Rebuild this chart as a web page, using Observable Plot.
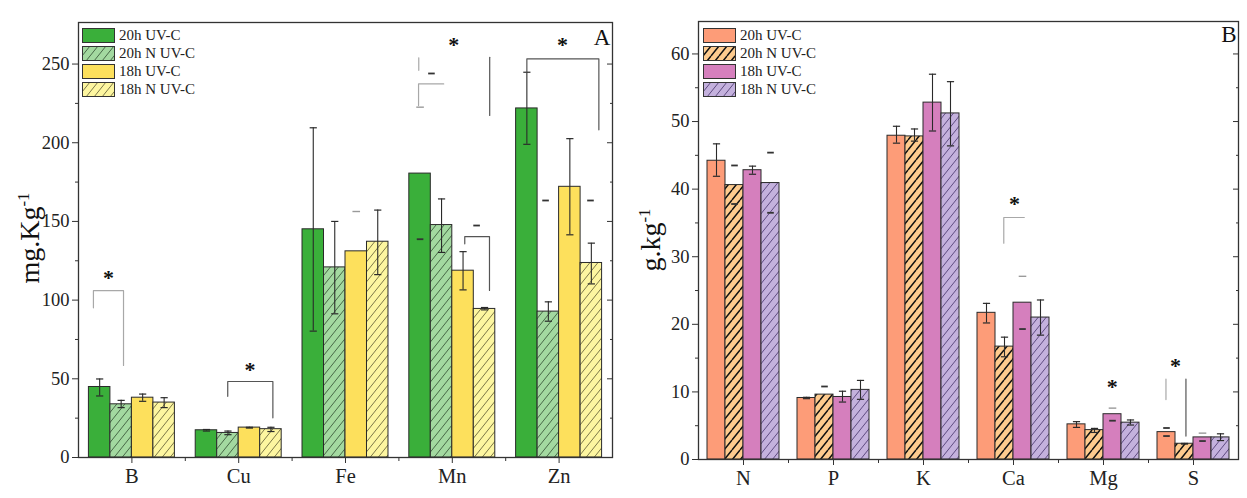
<!DOCTYPE html>
<html><head><meta charset="utf-8">
<script src="https://cdn.jsdelivr.net/npm/d3@7"></script>
<script src="https://cdn.jsdelivr.net/npm/@observablehq/plot@0.6"></script>
<style>
html,body{margin:0;padding:0;background:#fff;}
body{width:1247px;height:498px;overflow:hidden;position:relative;font-family:"Liberation Serif",serif;color:#222;}
.panel{position:absolute;top:0;}
.ytitle{position:absolute;transform:translate(-50%,-50%) rotate(-90deg);font-size:28px;white-space:nowrap;color:#111;}
.ytitle sup{font-size:0.6em;}
.legend{position:absolute;font-size:15px;color:#222;}
.legend .row{position:absolute;left:0;display:flex;align-items:center;white-space:nowrap;height:15px;}
.legend svg{margin-right:4px;}
.tag{position:absolute;font-size:23px;transform:translate(-50%,-50%);color:#111;}
</style></head><body>
<div id="A" class="panel" style="left:0"></div>
<div id="B" class="panel" style="left:620px"></div>
<div class="ytitle" style="left:30px;top:238px">mg.Kg<sup>-1</sup></div>
<div class="ytitle" style="left:651px;top:240px">g.kg<sup>-1</sup></div>
<div class="tag" style="left:602px;top:38px">A</div>
<div class="tag" style="left:1229px;top:35px">B</div>
<div id="legA" class="legend" style="left:82px;top:28px"></div>
<div id="legB" class="legend" style="left:703px;top:28px"></div>
<script>
// ---------- shared ----------
const seriesNames = ["20h UV-C", "20h N UV-C", "18h UV-C", "18h N UV-C"];

// ---------- Panel A (mg.Kg-1) ----------
const catsA = ["B", "Cu", "Fe", "Mn", "Zn"];
const a20h  = [44.8, 17.3, 145.0, 180.4, 221.8];
const a20hN = [33.8, 15.6, 120.8, 147.7, 92.7];
const a18h  = [38.0, 19.0, 131.0, 118.7, 172.0];
const a18hN = [34.9, 18.0, 137.1, 94.4, 123.6];
const aErr20h  = [[39.1, 49.9], [16.8, 17.8], [80.3, 209.5], null, [199.0, 244.8]];
const aErr20hN = [[31.7, 36.3], [14.5, 16.8], [91.3, 150.0], [130.3, 164.3], [86.6, 98.9]];
const aErr18h  = [[35.7, 40.3], [18.7, 19.2], null, [106.5, 130.8], [141.5, 202.6]];
const aErr18hN = [[31.7, 38.0], [16.5, 19.2], [116.2, 157.2], [93.8, 95.3], [110.3, 136.2]];
const aTicks = [0, 50, 100, 150, 200, 250];
const aMinor = [25, 75, 125, 175, 225];
// significance annotations: [category, bar slot, value]
const aStars = [["B", 0.41, 117], ["Cu", 2.03, 58.9], ["Mn", 1.57, 265], ["Zn", 1.66, 265]];
const aLinesLight = [
  ["B", [[-0.29, 95.1], [-0.29, 106], [1.11, 106], [1.11, 58.5]]],
  ["Mn", [[-0.06, 246], [-0.06, 254]]],
  ["Mn", [[-0.07, 223.6], [-0.07, 237.4], [1.1, 237.4]]]
];
const aLinesDark = [
  ["Cu", [[0.99, 38.9], [0.99, 48.3], [3.09, 48.3], [3.09, 25.2]]],
  ["Mn", [[3.24, 217.3], [3.24, 254.3]]],
  ["Mn", [[2.08, 135.8], [2.08, 140.4], [3.23, 140.4], [3.23, 106.1]]],
  ["Zn", [[0, 244.8], [0, 253.3], [3.35, 253.3], [3.35, 208.2]]]
];
const aDashesLight = [["Fe", 2, 156.3], ["Mn", 0, 222.6]];
const aDashesDark = [["Mn", 0, 138.7], ["Mn", 0.53, 244], ["Mn", 2.63, 147.4], ["Zn", 0.87, 163.3], ["Zn", 2.96, 163.3]];

// ---------- Panel B (g.kg-1) ----------
const catsB = ["N", "P", "K", "Ca", "Mg", "S"];
const b20h  = [44.2, 9.1, 47.9, 21.7, 5.2, 4.05];
const b20hN = [40.6, 9.6, 47.8, 16.7, 4.35, 2.33];
const b18h  = [42.8, 9.25, 52.8, 23.2, 6.7, 3.27];
const b18hN = [40.9, 10.3, 51.2, 21.0, 5.45, 3.27];
const bErr20h  = [[41.9, 46.7], [9.0, 9.2], [46.8, 49.3], [20.2, 23.1], [4.75, 5.6], null];
const bErr20hN = [null, null, [47.1, 48.9], [15.2, 18.1], [4.0, 4.6], [2.28, 2.38]];
const bErr18h  = [[42.2, 43.4], [8.5, 10.1], [48.6, 57.0], null, null, null];
const bErr18hN = [null, [8.9, 11.7], [46.4, 55.9], [18.4, 23.6], [5.1, 5.85], [2.8, 3.8]];
const bTicks = [0, 10, 20, 30, 40, 50, 60];
const bMinor = [5, 15, 25, 35, 45, 55];
const bStars = [["Ca", 1.56, 38.5], ["Mg", 1.98, 11.4], ["S", 0.5, 14.6]];
const bLinesLight = [
  ["Ca", [[0.96, 32], [0.96, 35.8], [2.1, 35.8]]],
  ["S", [[-0.03, 8.86], [-0.03, 11.9]]]
];
const bLinesDark = [["S", [[1.08, 3.47], [1.08, 11.9]]]];
const bDashesLight = [["Ca", 2, 27.1], ["Mg", 2, 7.6], ["S", 2, 3.9]];
const bDashesDark = [["N", 1, 43.5], ["N", 1, 37.8], ["N", 3, 45.4], ["N", 3, 36.5], ["P", 1, 10.8],
  ["Ca", 2, 19.3], ["Mg", 2, 5.74], ["S", 0, 4.66], ["S", 0, 3.47], ["S", 2, 2.73]];

// ---------- drawing ----------
const hbar = {draw(ctx, size) { const r = Math.sqrt(size / Math.PI); ctx.moveTo(-r, 0); ctx.lineTo(r, 0); }};

function hatch(id, bg, ink, sw) {
  return `<pattern id="${id}" patternUnits="userSpaceOnUse" width="8" height="10">
    <rect width="8" height="10" fill="${bg}"/>
    <path d="M0,10L8,0M-8,10L0,0M8,10L16,0" stroke="${ink}" stroke-width="${sw}" fill="none"/></pattern>`;
}

function addDefs(svg, html) {
  const d = document.createElementNS("http://www.w3.org/2000/svg", "defs");
  d.innerHTML = html;
  svg.insertBefore(d, svg.firstChild);
}

function drawPanel(cfg) {
  const n = cfg.cats.length, bw = cfg.groupFrac / 4;
  const pos = (i, slot) => i + (slot - 1.5) * bw;
  const ci = c => cfg.cats.indexOf(c);
  const bars = [], errs = [], caps = [];
  cfg.means.forEach((arr, s) => arr.forEach((v, i) => {
    bars.push({s, x1: pos(i, s - 0.5), x2: pos(i, s + 0.5), v});
    const e = cfg.errs[s][i];
    if (e) {
      errs.push({x: pos(i, s), lo: e[0], hi: e[1]});
      caps.push({x: pos(i, s), y: e[0]}, {x: pos(i, s), y: e[1]});
    }
  }));
  const lineRows = list => list.flatMap((L, k) => L[1].map(p => ({id: k, x: pos(ci(L[0]), p[0]), y: p[1]})));
  const ptRows = list => list.map(d => ({x: pos(ci(d[0]), d[1]), y: d[2]}));

  const marks = [];
  cfg.fills.forEach((f, s) => marks.push(Plot.rectY(bars.filter(d => d.s === s),
    {x1: "x1", x2: "x2", y1: 0, y2: "v", fill: f, stroke: "#2a2a2a", strokeWidth: 1})));
  marks.push(
    Plot.ruleX(errs, {x: "x", y1: "lo", y2: "hi", stroke: "#2a2a2a", strokeWidth: 1.1}),
    Plot.dot(caps, {x: "x", y: "y", symbol: hbar, r: 3.6, stroke: "#2a2a2a", fill: "none", strokeWidth: 1.2}),
    Plot.dot(ptRows(cfg.dashesLight), {x: "x", y: "y", symbol: hbar, r: 3.8, stroke: "#9a9a9a", fill: "none", strokeWidth: 1.4}),
    Plot.dot(ptRows(cfg.dashesDark), {x: "x", y: "y", symbol: hbar, r: 3.3, stroke: "#333", fill: "none", strokeWidth: 1.8}),
    Plot.line(lineRows(cfg.linesLight), {x: "x", y: "y", z: "id", stroke: "#a8a8a8", strokeWidth: 1.2}),
    Plot.line(lineRows(cfg.linesDark), {x: "x", y: "y", z: "id", stroke: "#555", strokeWidth: 1.2}),
    Plot.text(ptRows(cfg.stars), {x: "x", y: "y", text: () => "*", fontSize: 22, fontWeight: "bold", dy: 5, fill: "#111"}),
    Plot.axisY(cfg.ticks, {tickSize: 6, tickPadding: 3, fontSize: 18.5, label: null, stroke: "#333"}),
    Plot.axisY(cfg.minor, {tickSize: 3, tickFormat: () => "", label: null, stroke: "#333"}),
    Plot.axisY(cfg.ticks, {anchor: "right", tickSize: -6, tickFormat: () => "", label: null, stroke: "#333"}),
    Plot.axisY(cfg.minor, {anchor: "right", tickSize: -3, tickFormat: () => "", label: null, stroke: "#333"}),
    Plot.axisX(d3.range(n), {tickSize: 6, tickPadding: 5, tickFormat: i => cfg.cats[i], fontSize: 20.5, label: null, stroke: "#333"}),
    Plot.axisX(d3.range(n - 1).map(i => i + 0.5), {tickSize: 4, tickFormat: () => "", label: null, stroke: "#333"}),
    Plot.frame({stroke: "#333", strokeWidth: 1.3})
  );

  const svg = Plot.plot({
    width: cfg.width, height: 498,
    marginLeft: cfg.m[0], marginRight: cfg.m[1], marginTop: cfg.m[2], marginBottom: cfg.m[3],
    x: {domain: [-0.5, n - 0.5]},
    y: {domain: [0, cfg.ymax]},
    style: {fontFamily: "Liberation Serif, serif", fontSize: "18px", color: "#222", background: "transparent"},
    marks
  });
  addDefs(svg, cfg.defs);
  document.getElementById(cfg.el).appendChild(svg);

  // legend
  const leg = document.getElementById(cfg.leg);
  seriesNames.forEach((name, s) => {
    const row = document.createElement("div");
    row.className = "row";
    row.style.top = (s * 18) + "px";
    row.innerHTML = `<svg width="33" height="15"><rect x="0.5" y="0.5" width="32" height="14" fill="${cfg.legendFills[s]}" stroke="#333" stroke-width="1"/></svg><span>${name}</span>`;
    leg.appendChild(row);
  });
}

drawPanel({
  el: "A", leg: "legA", cats: catsA, width: 620, m: [78, 8, 22, 41], ymax: 276.4, groupFrac: 0.805,
  means: [a20h, a20hN, a18h, a18hN], errs: [aErr20h, aErr20hN, aErr18h, aErr18hN],
  ticks: aTicks, minor: aMinor, stars: aStars,
  linesLight: aLinesLight, linesDark: aLinesDark, dashesLight: aDashesLight, dashesDark: aDashesDark,
  fills: ["#3aaf3a", "url(#hA1)", "#fde05c", "url(#hA3)"],
  legendFills: ["#3aaf3a", "url(#hA1L)", "#fde05c", "url(#hA3L)"],
  defs: hatch("hA1", "#a3d9a0", "#2e4a2e", 0.8) + hatch("hA3", "#fdf6a0", "#5a5530", 0.8) +
        hatch("hA1L", "#a3d9a0", "#2e4a2e", 0.8) + hatch("hA3L", "#fdf6a0", "#5a5530", 0.8)
});
drawPanel({
  el: "B", leg: "legB", cats: catsB, width: 627, m: [78, 9, 21, 39], ymax: 64.8, groupFrac: 0.8,
  means: [b20h, b20hN, b18h, b18hN], errs: [bErr20h, bErr20hN, bErr18h, bErr18hN],
  ticks: bTicks, minor: bMinor, stars: bStars,
  linesLight: bLinesLight, linesDark: bLinesDark, dashesLight: bDashesLight, dashesDark: bDashesDark,
  fills: ["#fd9c78", "url(#hB1)", "#d57fbd", "url(#hB3)"],
  legendFills: ["#fd9c78", "url(#hB1L)", "#d57fbd", "url(#hB3L)"],
  defs: hatch("hB1", "#fecb8e", "#111", 1.5) + hatch("hB3", "#c4b1dd", "#5e4a80", 1) +
        hatch("hB1L", "#fecb8e", "#111", 1.5) + hatch("hB3L", "#c4b1dd", "#5e4a80", 1)
});
</script>
</body></html>
